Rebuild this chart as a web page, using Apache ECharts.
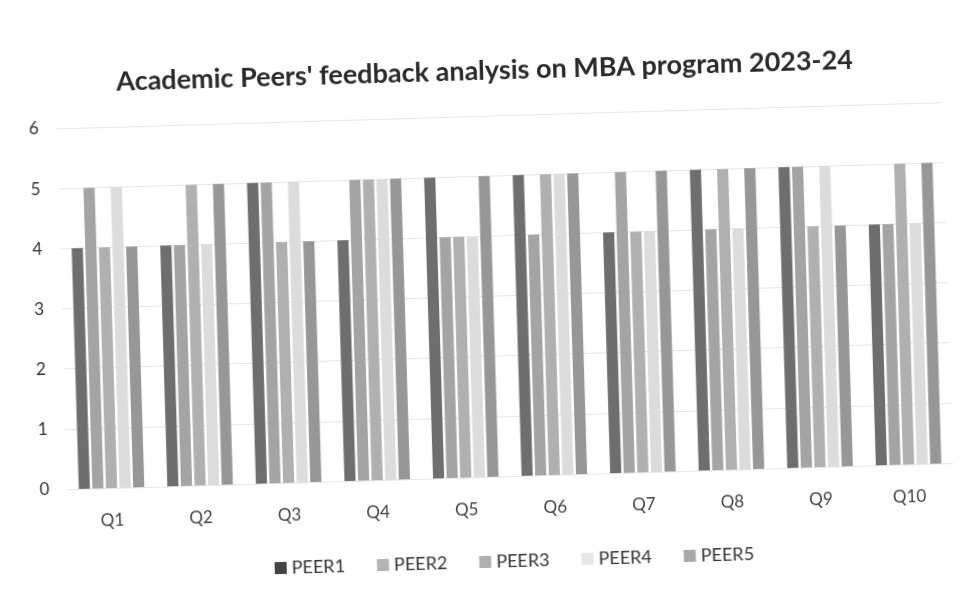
<!DOCTYPE html>
<html>
<head>
<meta charset="utf-8">
<script src="https://cdn.jsdelivr.net/npm/echarts@6/dist/echarts.min.js"></script>
<style>
html,body{margin:0;padding:0;background:#fff;overflow:hidden;}
#chart{width:960px;height:611px;transform:rotate(-1.7deg);transform-origin:480px 305px;}
</style>
</head>
<body>
<div id="chart"></div>
<script>
var categories = ['Q1','Q2','Q3','Q4','Q5','Q6','Q7','Q8','Q9','Q10'];
var seriesNames = ['PEER1','PEER2','PEER3','PEER4','PEER5'];
var peer1 = [4,4,5,4,5,5,4,5,5,4];
var peer2 = [5,4,5,5,4,4,5,4,5,4];
var peer3 = [4,5,4,5,4,5,4,5,4,5];
var peer4 = [5,4,5,5,4,5,4,4,5,4];
var peer5 = [4,5,4,5,5,5,5,5,4,5];
var yTicks = [0,1,2,3,4,5,6];

var values = [peer1, peer2, peer3, peer4, peer5];
var colors = ['#6e6e6e','#a4a4a4','#b0b0b0','#dcdcdc','#979797'];
var legendColors = ['#444444','#b4b4b4','#b0b0b0','#e6e6e6','#a8a8a8'];

var chart = echarts.init(document.getElementById('chart'), null, {renderer:'canvas'});
var series = seriesNames.map(function(n, i){
  return {
    name: n, type: 'bar', data: values[i],
    barGap: '22%', barCategoryGap: '26%',
    itemStyle: {color: colors[i]}
  };
});
chart.setOption({
  animation: false,
  backgroundColor: '#fff',
  title: {
    text: "Academic Peers' feedback analysis on MBA program 2023-24",
    left: 118, top: 53,
    textStyle: {fontFamily: 'Lato', fontWeight: 'bold', fontSize: 27, color: '#2a2a2a'}
  },
  legend: {
    data: seriesNames.map(function(n, i){ return {name: n, itemStyle: {color: legendColors[i]}}; }),
    bottom: 35, left: 262,
    icon: 'rect', itemWidth: 12, itemHeight: 12, itemGap: 32,
    textStyle: {fontFamily: 'Lato', fontSize: 18, color: '#333'}
  },
  grid: {left: 62, right: 12, top: 116, bottom: 134, containLabel: false},
  xAxis: {
    type: 'category', data: categories,
    axisLine: {show: false}, axisTick: {show: false},
    axisLabel: {fontFamily: 'Lato', fontSize: 17, color: '#444', margin: 24}
  },
  yAxis: {
    type: 'value', min: 0, max: 6, interval: 1,
    axisLine: {show: false}, axisTick: {show: false},
    axisLabel: {fontFamily: 'Lato', fontSize: 17, color: '#333', margin: 18,
      formatter: function(v){ return yTicks.indexOf(v) >= 0 ? String(v) : ''; }},
    splitLine: {lineStyle: {color: '#e6e6e6', width: 1}}
  },
  series: series
});
</script>
</body>
</html>
